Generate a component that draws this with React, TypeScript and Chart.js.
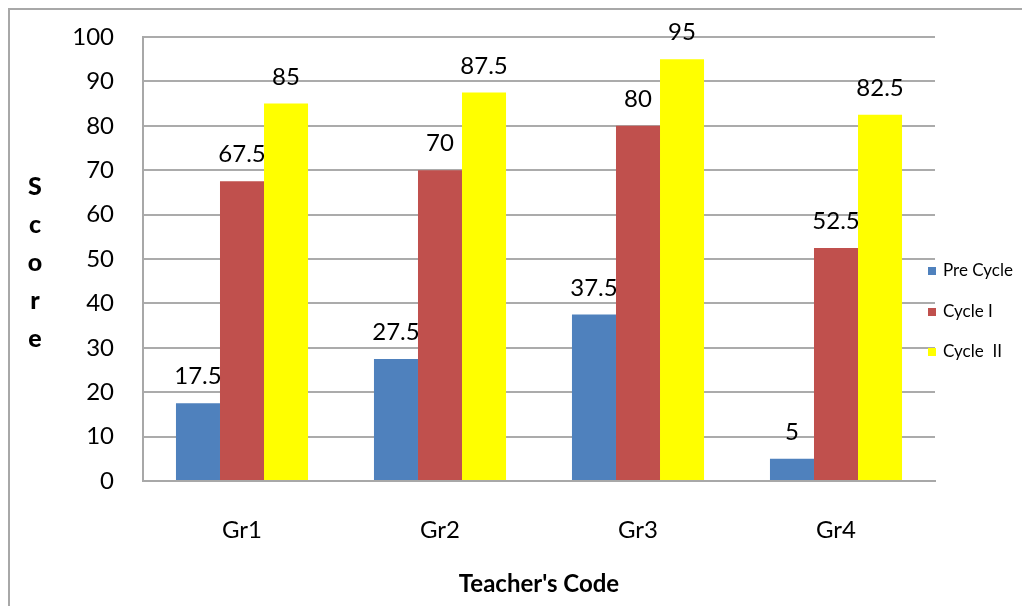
import React, { useEffect, useRef } from "react";
import { Chart, registerables } from "chart.js";

Chart.register(...registerables);

const categories = ["Gr1", "Gr2", "Gr3", "Gr4"];
const seriesNames = ["Pre Cycle", "Cycle I", "Cycle  II"];
const preCycle = [17.5, 27.5, 37.5, 5];
const cycleOne = [67.5, 70, 80, 52.5];
const cycleTwo = [85, 87.5, 95, 82.5];
const seriesColors = ["#4F81BD", "#C0504D", "#FFFF00"];
const yTitleLetters = ["S", "c", "o", "r", "e"];
const xTitle = "Teacher's Code";

const FONT = "Lato, 'Open Sans', sans-serif";

const dataLabelPlugin = {
  id: "dataLabels",
  afterDatasetsDraw(chart: any) {
    const ctx = chart.ctx;
    ctx.save();
    ctx.font = `24px ${FONT}`;
    ctx.fillStyle = "#000";
    ctx.textAlign = "center";
    ctx.textBaseline = "alphabetic";
    chart.data.datasets.forEach((ds: any, i: number) => {
      const meta = chart.getDatasetMeta(i);
      meta.data.forEach((bar: any, j: number) => {
        ctx.fillText(String(ds.data[j]), bar.x, bar.y - 19);
      });
    });
    ctx.restore();
  },
};

const sideTextPlugin = {
  id: "sideText",
  afterDraw(chart: any) {
    const ctx = chart.ctx;
    const area = chart.chartArea;
    ctx.save();
    // Y title, stacked letters
    ctx.font = `900 25px ${FONT}`;
    ctx.fillStyle = "#000";
    ctx.textAlign = "center";
    ctx.textBaseline = "alphabetic";
    const baseStart = 185;
    const step = 38;
    yTitleLetters.forEach((ch, i) => {
      ctx.fillText(ch, 25, baseStart + i * step);
    });
    // Legend
    const legendX = area.right - 7;
    const baselines = [266, 307, 347];
    ctx.font = `17px ${FONT}`;
    ctx.textAlign = "left";
    chart.data.datasets.forEach((ds: any, i: number) => {
      const b = baselines[i];
      ctx.fillStyle = ds.backgroundColor;
      ctx.fillRect(legendX, b - 9, 8, 8);
      ctx.fillStyle = "#000";
      ctx.fillText(ds.label, legendX + 15, b);
    });
    ctx.restore();
  },
};

export default function App() {
  const ref = useRef<HTMLCanvasElement | null>(null);
  useEffect(() => {
    if (!ref.current) return;
    const chart = new Chart(ref.current, {
      type: "bar",
      data: {
        labels: categories,
        datasets: [
          { label: seriesNames[0], data: preCycle, backgroundColor: seriesColors[0] },
          { label: seriesNames[1], data: cycleOne, backgroundColor: seriesColors[1] },
          { label: seriesNames[2], data: cycleTwo, backgroundColor: seriesColors[2] },
        ],
      },
      options: {
        responsive: false,
        maintainAspectRatio: false,
        animation: false,
        layout: { padding: { top: 27, right: 95, bottom: 0, left: 0 } },
        datasets: { bar: { barPercentage: 1, categoryPercentage: 0.667 } },
        plugins: {
          legend: { display: false },
          tooltip: { enabled: false },
        },
        scales: {
          x: {
            grid: { display: false, drawTicks: false },
            border: { display: true, color: "#a8a8a8", width: 2 },
            ticks: { font: { family: FONT, size: 24 }, color: "#000", padding: 35 },
            title: {
              display: true,
              text: xTitle,
              font: { family: FONT, size: 24, weight: "bold" },
              color: "#000",
              padding: { top: 0, bottom: 7 },
            },
            afterFit(scale: any) {
              scale.height = 125;
              scale.paddingLeft = 0;
              scale.paddingRight = 0;
            },
          },
          y: {
            min: 0,
            max: 100,
            ticks: { stepSize: 10, font: { family: FONT, size: 24 }, color: "#000", padding: 29 },
            grid: { color: "#ababab", lineWidth: 2, drawTicks: false },
            border: { display: true, color: "#a8a8a8", width: 2 },
            afterFit(scale: any) {
              scale.width = 133;
              scale.paddingTop = 0;
              scale.paddingBottom = 0;
            },
          },
        },
      },
      plugins: [dataLabelPlugin, sideTextPlugin],
    });
    return () => chart.destroy();
  }, []);

  return (
    <div
      style={{
        borderLeft: "2px solid #a8a8a8",
        borderTop: "2px solid #a8a8a8",
        width: 1020,
        height: 596,
        background: "#fff",
      }}
    >
      <canvas ref={ref} width={1020} height={596} style={{ display: "block" }} />
    </div>
  );
}
